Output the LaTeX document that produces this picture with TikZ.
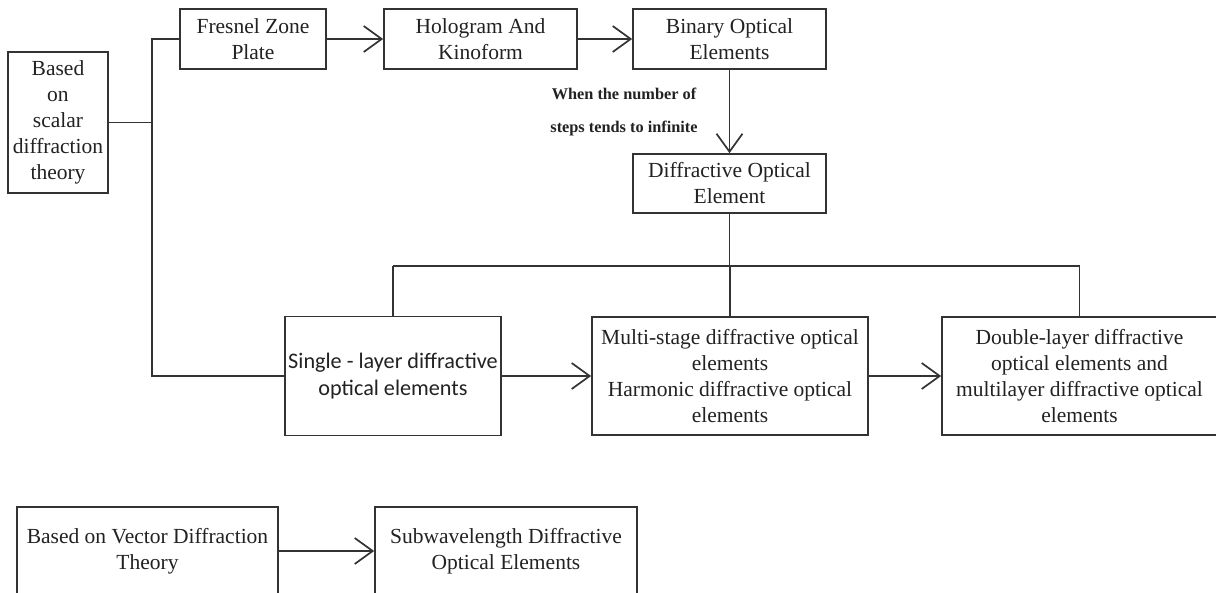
\documentclass[tikz,border=0pt]{standalone}
\usepackage{fontspec}
\setmainfont{Liberation Serif}
\newfontfamily\carlito{Carlito}
\usetikzlibrary{arrows.meta}
\definecolor{ln}{HTML}{333333}
\definecolor{tx}{HTML}{222222}
\tikzset{
  box/.style={draw=ln, line width=1.7pt, inner sep=0pt, align=center, text=tx,
    font=\fontsize{21.5}{26}\selectfont},
  conn/.style={draw=ln, line width=1.7pt},
  arr/.style={conn, -{Straight Barb[length=18pt,width=26pt,line width=1.7pt]}},
  lbl/.style={align=center, text=tx, inner sep=0pt, font=\bfseries\fontsize{16.3}{33}\selectfont}
}
\begin{document}
\begin{tikzpicture}[x=1pt,y=-1pt]
\useasboundingbox (0,0) rectangle (1216,592);
\fill[white] (0,0) rectangle (1216,592);
\clip (0,0) rectangle (1216,592);

\node[box, minimum width=100pt, minimum height=141pt] (L) at (58,122.5) {Based\\on\\scalar\\diffraction\\theory};
\node[box, minimum width=146pt, minimum height=60pt] (F) at (253,39) {Fresnel Zone\\Plate};
\node[box, minimum width=193pt, minimum height=60pt] (H) at (480.5,39) {Hologram And\\Kinoform};
\node[box, minimum width=193pt, minimum height=60pt] (B) at (729.5,39) {Binary Optical\\Elements};
\node[box, minimum width=193pt, minimum height=59pt] (D) at (729.5,183.5) {Diffractive Optical\\Element};
\node[box, minimum width=216pt, minimum height=119pt, font=\carlito\fontsize{22.2}{27}\selectfont] (S) at (393,376) {Single - layer diffractive\\optical elements};
\node[box, minimum width=276pt, minimum height=118pt] (M) at (730,376) {Multi-stage diffractive optical\\elements\\Harmonic diffractive optical\\elements};
\node[box, minimum width=275pt, minimum height=118pt] (DL) at (1079.5,376) {Double-layer diffractive\\optical elements and\\multilayer diffractive optical\\elements};
\node[box, minimum width=261pt, minimum height=88pt] (V) at (147.5,551) {Based on Vector Diffraction\\Theory};
\node[box, minimum width=262pt, minimum height=88pt] (W) at (506,551) {Subwavelength Diffractive\\Optical Elements};

\node[lbl] (T) at (624,111.5) {When the number of\\steps tends to infinite};

\coordinate (bus) at (152,0);
\coordinate (hb) at (0,266);

\draw[conn] (L.east) -- (L.east -| bus);
\draw[conn] (F.west) -- (F.west -| bus) -- (bus |- S.west) -- (S.west);
\draw[arr] (F.east) -- (H.west);
\draw[arr] (H.east) -- (B.west);
\draw[arr] (B.south) -- (D.north);
\draw[conn] (D.south) -- (D.south |- hb);
\draw[conn] (S.north |- hb) -- (DL.north |- hb);
\draw[conn] (S.north |- hb) -- (S.north);
\draw[conn] (M.north |- hb) -- (M.north);
\draw[conn] (DL.north |- hb) -- (DL.north);
\draw[arr] (S.east) -- (M.west);
\draw[arr] (M.east) -- (DL.west);
\draw[arr] (V.east) -- (W.west);
\end{tikzpicture}
\end{document}
